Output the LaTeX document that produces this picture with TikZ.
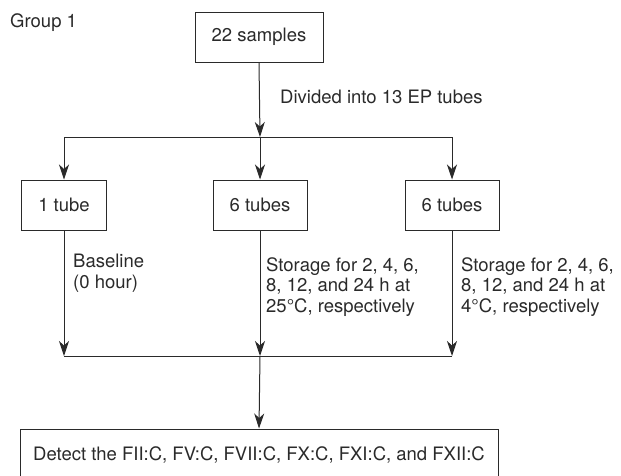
\documentclass[tikz,border=0pt]{standalone}
\usepackage{fontspec}
\setmainfont{TeX Gyre Heros}
\usetikzlibrary{arrows.meta}
\definecolor{ink}{HTML}{2A2A2A}
\begin{document}
\begin{tikzpicture}[x=1pt,y=-1pt,
  every node/.style={text=ink,font=\fontsize{18.5}{20.5}\selectfont},
  box/.style={draw=ink,line width=1pt,minimum height=50pt,inner sep=0pt},
  lbl/.style={anchor=north west,inner sep=0pt,align=left},
  conn/.style={draw=ink,line width=1pt},
  arr/.style={conn,-{Stealth[length=15pt,width=10pt,inset=4.5pt]}}]
\useasboundingbox (0,0) rectangle (621,475);
\clip (0,0) rectangle (621,475);
\node[anchor=west,inner sep=0pt] (g1) at (10,23) {Group 1};
\node[box,minimum width=128pt] (s22) at (259,37) {22 samples};
\node[lbl] (div) at (280,90) {Divided into 13 EP tubes};
\coordinate (jt) at (260,137);
\node[box,minimum width=85pt] (b1) at (64,205) {1 tube};
\node[box,minimum width=94pt] (b2) at (260,205) {6 tubes};
\node[box,minimum width=94pt] (b3) at (452,205) {6 tubes};
\node[lbl] (t1) at (73,254) {Baseline\\(0 hour)};
\node[lbl] (t2) at (266,257) {Storage for 2, 4, 6,\\8, 12, and 24 h at\\25°C, respectively};
\node[lbl] (t3) at (461,257) {Storage for 2, 4, 6,\\8, 12, and 24 h at\\4°C, respectively};
\coordinate (jb) at (260,356);
\node[box,minimum width=478pt,minimum height=52pt] (bot) at (259,455) {Detect the FII:C, FV:C, FVII:C, FX:C, FXI:C, and FXII:C};
\draw[arr] (s22.south) -- (jt);
\draw[arr] (jt) -| (b1.north);
\draw[arr] (jt) -- (b2.north);
\draw[arr] (jt) -| (b3.north);
\draw[arr] (b1.south) -- (b1.south |- jb);
\draw[arr] (b2.south) -- (jb);
\draw[arr] (b3.south) -- (b3.south |- jb);
\draw[conn] (b1.south |- jb) -- (b3.south |- jb);
\draw[arr] (jb) -- (bot.north);
\end{tikzpicture}
\end{document}
